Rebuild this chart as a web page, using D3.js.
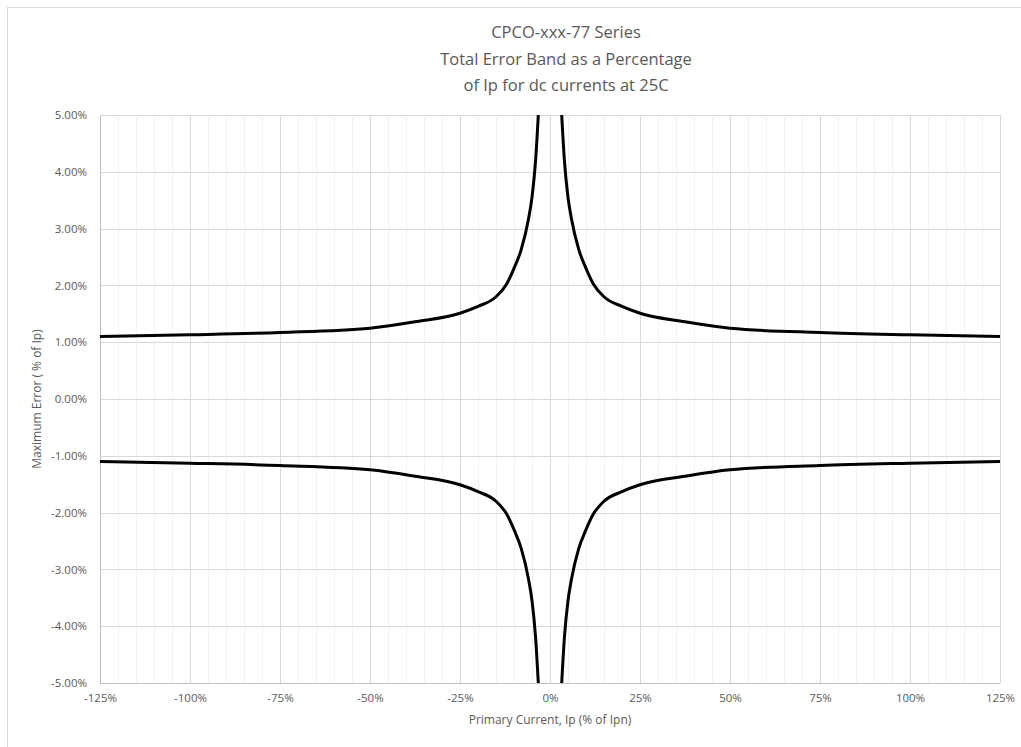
<!DOCTYPE html>
<html>
<head>
<meta charset="utf-8">
<script src="https://cdn.jsdelivr.net/npm/d3@7"></script>
<style>
  body { margin: 0; background: #fff; }
  svg { display: block; font-family: "Open Sans", "Liberation Sans", sans-serif; }
</style>
</head>
<body>
<svg id="chart" width="1021" height="747"></svg>
<script>
// primary current (% of Ipn) and max error (% of Ip)
const ipNeg = [-125, -100, -75, -50, -37.5, -25, -20, -15, -12, -10, -8, -6, -5, -4, -3.25];
const upperNeg = [1.10, 1.13, 1.17, 1.245, 1.36, 1.51, 1.63, 1.80, 2.03, 2.30, 2.63, 3.16, 3.55, 4.20, 5.00];
const lowerNeg = [-1.10, -1.13, -1.17, -1.245, -1.36, -1.51, -1.63, -1.80, -2.03, -2.30, -2.63, -3.16, -3.55, -4.20, -5.00];

const ipPos = [3.25, 4, 5, 6, 8, 10, 12, 15, 20, 25, 37.5, 50, 75, 100, 125];
const upperPos = [5.00, 4.20, 3.55, 3.16, 2.63, 2.30, 2.03, 1.80, 1.63, 1.51, 1.36, 1.245, 1.17, 1.13, 1.10];
const lowerPos = [-5.00, -4.20, -3.55, -3.16, -2.63, -2.30, -2.03, -1.80, -1.63, -1.51, -1.36, -1.245, -1.17, -1.13, -1.10];

const xTicks = [-125, -100, -75, -50, -25, 0, 25, 50, 75, 100, 125];
const yTicks = [-5, -4, -3, -2, -1, 0, 1, 2, 3, 4, 5];
const titleLines = ["CPCO-xxx-77 Series", "Total Error Band as a Percentage", "of Ip for dc currents at 25C"];

const svg = d3.select("#chart");
const margin = { top: 115, right: 21, bottom: 64, left: 100 };
const width = +svg.attr("width") - margin.left - margin.right;
const height = +svg.attr("height") - margin.top - margin.bottom;

// chart frame (only top and left edges fall inside the picture)
svg.append("rect")
    .attr("x", 7.5).attr("y", 7.5)
    .attr("width", 1200).attr("height", 1000)
    .attr("fill", "none")
    .attr("stroke", "#d9d9d9");

const x = d3.scaleLinear().domain([-125, 125]).range([0, width]);
const y = d3.scaleLinear().domain([-5, 5]).range([height, 0]);

const g = svg.append("g")
    .attr("transform", "translate(" + margin.left + "," + margin.top + ")");

// minor vertical grid every 5%
g.append("g")
    .selectAll("line")
    .data(d3.range(-125, 126, 5).filter(v => v % 25 !== 0))
    .enter().append("line")
    .attr("x1", d => Math.round(x(d)) + 0.5).attr("x2", d => Math.round(x(d)) + 0.5)
    .attr("y1", 0).attr("y2", height)
    .attr("stroke", "#f2f2f2");

// major vertical grid
g.append("g")
    .selectAll("line")
    .data(xTicks)
    .enter().append("line")
    .attr("x1", d => Math.round(x(d)) + 0.5).attr("x2", d => Math.round(x(d)) + 0.5)
    .attr("y1", 0).attr("y2", height)
    .attr("stroke", "#d9d9d9");

// horizontal grid
g.append("g")
    .selectAll("line")
    .data(yTicks)
    .enter().append("line")
    .attr("x1", 0).attr("x2", width)
    .attr("y1", d => Math.round(y(d)) + 0.5).attr("y2", d => Math.round(y(d)) + 0.5)
    .attr("stroke", "#d9d9d9");

// axis lines
g.append("line")
    .attr("x1", 0.5).attr("x2", 0.5).attr("y1", 0).attr("y2", height)
    .attr("stroke", "#bfbfbf");
g.append("line")
    .attr("x1", 0).attr("x2", width)
    .attr("y1", Math.round(height) + 0.5).attr("y2", Math.round(height) + 0.5)
    .attr("stroke", "#bfbfbf");

// tick labels
const xAxis = g.append("g")
    .attr("transform", "translate(0," + height + ")")
    .call(d3.axisBottom(x).tickValues(xTicks).tickSize(0).tickPadding(11).tickFormat(d => d + "%"));
const yAxis = g.append("g")
    .call(d3.axisLeft(y).tickValues(yTicks).tickSize(0).tickPadding(13).tickFormat(d => d.toFixed(2) + "%"));
[xAxis, yAxis].forEach(a => {
    a.select(".domain").remove();
    a.selectAll("text")
        .attr("fill", "#595959")
        .style("font-size", "11.5px")
        .style("font-family", "\"Open Sans\", sans-serif");
});

// curves
g.append("clipPath").attr("id", "plotclip")
    .append("rect").attr("width", width).attr("height", height);

const line = d3.line()
    .x(d => x(d[0]))
    .y(d => y(d[1]))
    .curve(d3.curveMonotoneX);

const series = [
    d3.zip(ipNeg, upperNeg),
    d3.zip(ipPos, upperPos),
    d3.zip(ipNeg, lowerNeg),
    d3.zip(ipPos, lowerPos)
];

g.append("g")
    .attr("clip-path", "url(#plotclip)")
    .selectAll("path")
    .data(series)
    .enter().append("path")
    .attr("d", line)
    .attr("fill", "none")
    .attr("stroke", "#000")
    .attr("stroke-width", 3)
    .attr("stroke-linejoin", "round");

// title
svg.append("text")
    .attr("text-anchor", "middle")
    .attr("fill", "#595959")
    .style("font-size", "16.5px")
    .selectAll("tspan")
    .data(titleLines)
    .enter().append("tspan")
    .attr("x", 566)
    .attr("y", (d, i) => 38 + i * 26.5)
    .text(d => d);

// axis titles
svg.append("text")
    .attr("text-anchor", "middle")
    .attr("x", margin.left + width / 2)
    .attr("y", 724)
    .attr("fill", "#595959")
    .style("font-size", "12px")
    .text("Primary Current, Ip (% of Ipn)");

svg.append("text")
    .attr("text-anchor", "middle")
    .attr("transform", "translate(41," + (margin.top + height / 2) + ") rotate(-90)")
    .attr("fill", "#595959")
    .style("font-size", "12px")
    .text("Maximum Error ( % of Ip)");
</script>
</body>
</html>
